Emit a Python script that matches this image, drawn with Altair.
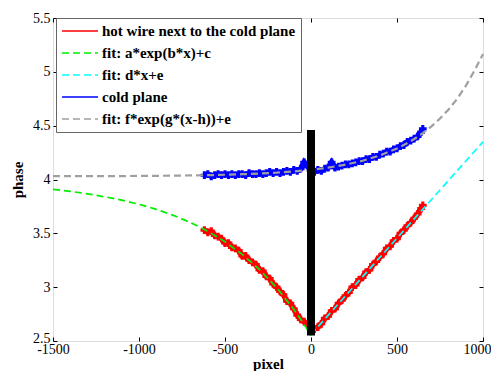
import altair as alt
import pandas as pd

# ---------------- data ----------------
names = ["hot wire next to the cold plane", "fit: a*exp(b*x)+c", "fit: d*x+e",
         "cold plane", "fit: f*exp(g*(x-h))+e"]
colors = ["#ff0000", "#00ee00", "#00ffff", "#0000ff", "#a0a0a0"]

hot_x = [-620, -600, -580, -560, -540, -520, -500, -480, -460, -440, -420, -400,
         -380, -360, -340, -320, -300, -280, -260, -240, -220, -200, -180, -160,
         -140, -120, -100, -80, -60, -40, -20, 0, 20, 40, 60, 80, 100, 120, 140,
         160, 180, 200, 220, 240, 260, 280, 300, 320, 340, 360, 380, 400, 420,
         440, 460, 480, 500, 520, 540, 560, 580, 600, 620, 640, 650]
hot_y = [3.53, 3.51, 3.52, 3.48, 3.47, 3.45, 3.41, 3.41, 3.37, 3.36, 3.34, 3.29,
         3.29, 3.25, 3.23, 3.21, 3.16, 3.15, 3.10, 3.08, 3.03, 3.00, 2.96, 2.93,
         2.87, 2.85, 2.80, 2.74, 2.70, 2.68, 2.66, 2.60, 2.61, 2.63, 2.66, 2.71,
         2.73, 2.78, 2.80, 2.85, 2.88, 2.92, 2.95, 3.00, 3.02, 3.07, 3.09, 3.14,
         3.16, 3.21, 3.24, 3.28, 3.31, 3.36, 3.38, 3.43, 3.45, 3.50, 3.53, 3.57,
         3.60, 3.64, 3.68, 3.73, 3.76]

cold_x = hot_x
cold_y = [4.04, 4.05, 4.03, 4.04, 4.05, 4.04, 4.05, 4.04, 4.05, 4.04, 4.05, 4.05,
          4.04, 4.06, 4.05, 4.05, 4.06, 4.05, 4.06, 4.07, 4.06, 4.07, 4.06, 4.07,
          4.08, 4.07, 4.09, 4.08, 4.10, 4.16, 4.12, 4.08, 4.07, 4.09, 4.08, 4.10,
          4.11, 4.16, 4.11, 4.12, 4.13, 4.14, 4.14, 4.15, 4.16, 4.17, 4.17, 4.19,
          4.19, 4.21, 4.21, 4.23, 4.24, 4.26, 4.26, 4.28, 4.29, 4.31, 4.32, 4.35,
          4.36, 4.38, 4.40, 4.44, 4.47]

fit_a_x = [-1500, -1400, -1300, -1200, -1100, -1000, -900, -800, -700, -600,
           -500, -400, -300, -200, -100, -50, 0]
fit_a_y = [3.908, 3.890, 3.867, 3.840, 3.808, 3.770, 3.723, 3.667, 3.600, 3.519,
           3.422, 3.305, 3.165, 2.996, 2.794, 2.678, 2.55]

fit_d_x = [0, 1000]
fit_d_y = [2.56, 4.35]

fit_f_x = [-1500, -1400, -1300, -1200, -1100, -1000, -900, -800, -700, -600,
           -500, -400, -300, -200, -100, 0, 100, 200, 300, 400, 500, 550, 600,
           650, 700, 750, 800, 850, 900, 950, 1000]
fit_f_y = [4.031, 4.031, 4.031, 4.032, 4.032, 4.033, 4.034, 4.036, 4.038, 4.040,
           4.044, 4.049, 4.055, 4.063, 4.075, 4.090, 4.110, 4.138, 4.174, 4.223,
           4.288, 4.329, 4.376, 4.430, 4.493, 4.566, 4.650, 4.750, 4.870, 5.010,
           5.165]

bar_x = [0]
bar_y0 = [2.55]
bar_y1 = [4.46]

x_ticks = [-1500, -1000, -500, 0, 500, 1000]
y_ticks = [2.5, 3, 3.5, 4, 4.5, 5, 5.5]

# ---------------- build table ----------------
rows = []
for nm, xs, ys in [(names[0], hot_x, hot_y), (names[1], fit_a_x, fit_a_y),
                   (names[2], fit_d_x, fit_d_y), (names[3], cold_x, cold_y),
                   (names[4], fit_f_x, fit_f_y)]:
    for i, (xv, yv) in enumerate(zip(xs, ys)):
        rows.append({"x": xv, "y": yv, "series": nm, "i": i})
df = pd.DataFrame(rows)
bar_df = pd.DataFrame({"x": bar_x, "y0": bar_y0, "y1": bar_y1})

FONT = "Liberation Serif"
xscale = alt.Scale(domain=[-1500, 1000], nice=False, zero=False)
yscale = alt.Scale(domain=[2.5, 5.5], nice=False, zero=False)
cscale = alt.Scale(domain=names, range=colors)
dscale = alt.Scale(domain=names, range=[[1, 0], [7, 4], [7, 4], [1, 0], [7, 4]])

legend = alt.Legend(
    title=None, orient="none", legendX=3, legendY=0, symbolType="stroke",
    symbolSize=1296, symbolStrokeWidth=1.4, labelFont=FONT, labelFontSize=15,
    labelFontWeight="bold", labelColor="black", fillColor="white",
    strokeColor="#666666", padding=5, rowPadding=6, clipHeight=16,
    labelLimit=400, labelOffset=3,
)

ax_bottom = alt.Axis(values=x_ticks, labelExpr="'' + datum.value", offset=-4,
                     tickSize=4, tickColor="black", domain=False, grid=False,
                     labelFlush=False, labelOverlap=False,
                     labelOffset={"condition": {"test": "datum.value === 1000", "value": -6}, "value": 0},
                     labelFont=FONT, labelFontSize=14, labelColor="black",
                     labelPadding=1, title="pixel", titleFont=FONT,
                     titleFontSize=15, titleFontWeight="bold", titleColor="black",
                     titlePadding=0)
ax_left = alt.Axis(values=y_ticks, labelExpr="'' + datum.value", offset=-4,
                   tickSize=4, tickColor="black", domain=False, grid=False,
                   labelFlush=False, labelOverlap=False,
                   labelOffset={"condition": {"test": "datum.value === 2.5", "value": -3}, "value": 0},
                   labelFont=FONT, labelFontSize=14, labelColor="black",
                   labelPadding=3, title="phase", titleFont=FONT,
                   titleFontSize=15, titleFontWeight="bold", titleColor="black",
                   titlePadding=7)
ax_top = alt.Axis(values=x_ticks, orient="top", offset=-4, tickSize=4,
                  tickColor="black", domain=False, grid=False, labels=False,
                  title=None)
ax_right = alt.Axis(values=y_ticks, orient="right", offset=-4, tickSize=4,
                    tickColor="black", domain=False, grid=False, labels=False,
                    title=None)

base = alt.Chart(df)
data_sel = alt.FieldOneOfPredicate(field="series", oneOf=[names[0], names[3]])
fit1_sel = alt.FieldOneOfPredicate(field="series", oneOf=[names[1], names[2]])
fit2_sel = alt.FieldEqualPredicate(field="series", equal=names[4])

def enc_color():
    return alt.Color("series:N", scale=cscale, legend=legend, sort=names)

def enc_dash():
    return alt.StrokeDash("series:N", scale=dscale, legend=legend, sort=names)

data_lines = base.mark_line(strokeWidth=5.5).encode(
    x=alt.X("x:Q", scale=xscale, axis=ax_bottom),
    y=alt.Y("y:Q", scale=yscale, axis=ax_left),
    color=enc_color(), strokeDash=enc_dash(), order="i:Q",
).transform_filter(data_sel)

data_pts = base.mark_point(filled=True, size=60, opacity=1, shape="cross").encode(
    x=alt.X("x:Q", scale=xscale, axis=None),
    y=alt.Y("y:Q", scale=yscale, axis=None),
    color=alt.Color("series:N", scale=cscale, legend=None),
).transform_filter(data_sel)

fit_lines1 = base.mark_line(strokeWidth=1.7).encode(
    x=alt.X("x:Q", scale=xscale, axis=ax_top),
    y=alt.Y("y:Q", scale=yscale, axis=ax_right),
    color=enc_color(), strokeDash=enc_dash(), order="i:Q",
).transform_filter(fit1_sel)

fit_lines2 = base.mark_line(strokeWidth=2.2).encode(
    x=alt.X("x:Q", scale=xscale, axis=None),
    y=alt.Y("y:Q", scale=yscale, axis=None),
    color=enc_color(), strokeDash=enc_dash(), order="i:Q",
).transform_filter(fit2_sel)

bar = alt.Chart(bar_df).mark_rule(color="black", strokeWidth=8).encode(
    x=alt.X("x:Q", scale=xscale, axis=None),
    y=alt.Y("y0:Q", scale=yscale, axis=None),
    y2="y1:Q",
)

chart = alt.layer(data_lines, data_pts, fit_lines1, fit_lines2, bar).resolve_axis(
    x="independent", y="independent"
).properties(
    width=430, height=323,
    padding={"left": 2, "top": 3, "right": 0, "bottom": 0},
).configure_view(stroke="black", strokeWidth=1).configure(background="white")

chart.save("out.html", embed_options={"renderer": "svg", "actions": False})
